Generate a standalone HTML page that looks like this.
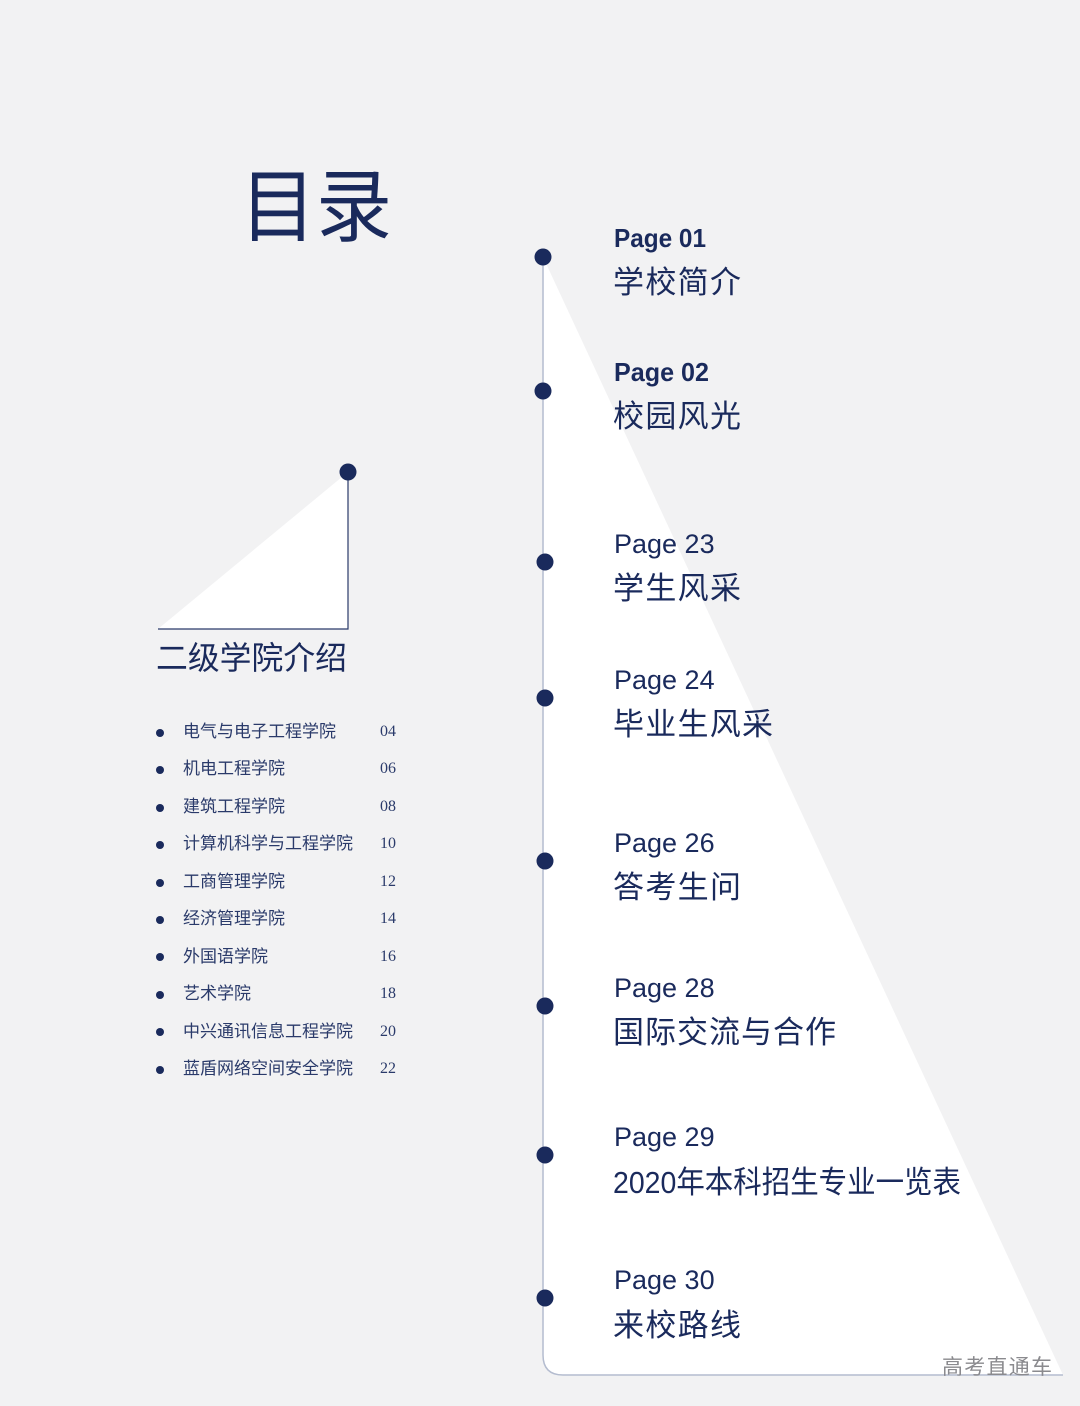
<!DOCTYPE html>
<html><head><meta charset="utf-8"><style>
html,body{margin:0;padding:0;background:#f2f2f3;}
svg{display:block}
text{font-family:"Liberation Sans","Noto Sans CJK SC",sans-serif;fill:#1a2a5c}
.p{font-size:27px}
.c{font-size:31px}
.l{font-size:17px;fill:#2a3a6a}
.n{font-family:"Liberation Serif","Noto Serif CJK SC",serif;font-size:16px;fill:#2a3a6a}
</style></head><body>
<svg width="1080" height="1406" viewBox="0 0 1080 1406" xmlns="http://www.w3.org/2000/svg">
<rect width="1080" height="1406" fill="#f2f2f3"/>
<path d="M543,257 L1063,1375 L563,1375 Q543,1375 543,1355 Z" fill="#ffffff"/>
<path d="M543,257 L543,1355 Q543,1375 563,1375 L1063,1375" fill="none" stroke="#b4bccf" stroke-width="1.5"/>
<path d="M158,629 L348,472 L348,629 Z" fill="#ffffff"/>
<path d="M348,472 L348,629 L158,629" fill="none" stroke="#2a3a6a" stroke-width="1.2"/>
<circle cx="348" cy="472" r="8.5" fill="#1a2a5c"/>
<text x="240" y="235" style="font-size:80px" textLength="152" lengthAdjust="spacingAndGlyphs">目录</text>
<text x="156" y="669" style="font-size:32px" textLength="191" lengthAdjust="spacingAndGlyphs">二级学院介绍</text>
<g>
<circle cx="160" cy="733" r="4" fill="#1a2a5c"/><text class="l" x="183" y="737">电气与电子工程学院</text><text class="n" x="380" y="736">04</text>
<circle cx="160" cy="770" r="4" fill="#1a2a5c"/><text class="l" x="183" y="774">机电工程学院</text><text class="n" x="380" y="773">06</text>
<circle cx="160" cy="808" r="4" fill="#1a2a5c"/><text class="l" x="183" y="812">建筑工程学院</text><text class="n" x="380" y="811">08</text>
<circle cx="160" cy="845" r="4" fill="#1a2a5c"/><text class="l" x="183" y="849">计算机科学与工程学院</text><text class="n" x="380" y="848">10</text>
<circle cx="160" cy="883" r="4" fill="#1a2a5c"/><text class="l" x="183" y="887">工商管理学院</text><text class="n" x="380" y="886">12</text>
<circle cx="160" cy="920" r="4" fill="#1a2a5c"/><text class="l" x="183" y="924">经济管理学院</text><text class="n" x="380" y="923">14</text>
<circle cx="160" cy="957" r="4" fill="#1a2a5c"/><text class="l" x="183" y="962">外国语学院</text><text class="n" x="380" y="961">16</text>
<circle cx="160" cy="995" r="4" fill="#1a2a5c"/><text class="l" x="183" y="999">艺术学院</text><text class="n" x="380" y="998">18</text>
<circle cx="160" cy="1032" r="4" fill="#1a2a5c"/><text class="l" x="183" y="1037">中兴通讯信息工程学院</text><text class="n" x="380" y="1036">20</text>
<circle cx="160" cy="1070" r="4" fill="#1a2a5c"/><text class="l" x="183" y="1074">蓝盾网络空间安全学院</text><text class="n" x="380" y="1073">22</text>
</g>
<g fill="#1a2a5c">
<circle cx="543" cy="257" r="8.5"/><circle cx="543" cy="391" r="8.5"/><circle cx="545" cy="562" r="8.5"/><circle cx="545" cy="698" r="8.5"/>
<circle cx="545" cy="861" r="8.5"/><circle cx="545" cy="1006" r="8.5"/><circle cx="545" cy="1155" r="8.5"/><circle cx="545" cy="1298" r="8.5"/>
</g>
<text x="614" y="247" font-weight="bold" style="font-size:26px" textLength="92" lengthAdjust="spacingAndGlyphs">Page 01</text><text class="c" x="613" y="293" textLength="128">学校简介</text>
<text x="614" y="381" font-weight="bold" style="font-size:26px" textLength="95" lengthAdjust="spacingAndGlyphs">Page 02</text><text class="c" x="613" y="427" textLength="128">校园风光</text>
<text class="p" x="614" y="553">Page 23</text><text class="c" x="613" y="599" textLength="128">学生风采</text>
<text class="p" x="614" y="689">Page 24</text><text class="c" x="613" y="735" textLength="160">毕业生风采</text>
<text class="p" x="614" y="852">Page 26</text><text class="c" x="613" y="898" textLength="128">答考生问</text>
<text class="p" x="614" y="997">Page 28</text><text class="c" x="613" y="1043" textLength="223">国际交流与合作</text>
<text class="p" x="614" y="1146">Page 29</text><text class="c" x="613" y="1193" textLength="348" lengthAdjust="spacingAndGlyphs">2020年本科招生专业一览表</text>
<text class="p" x="614" y="1289">Page 30</text><text class="c" x="613" y="1336" textLength="128">来校路线</text>
<text x="942" y="1374" style="font-size:21px;fill:#8a8a8e" textLength="110">高考直通车</text>
</svg>
</body></html>
